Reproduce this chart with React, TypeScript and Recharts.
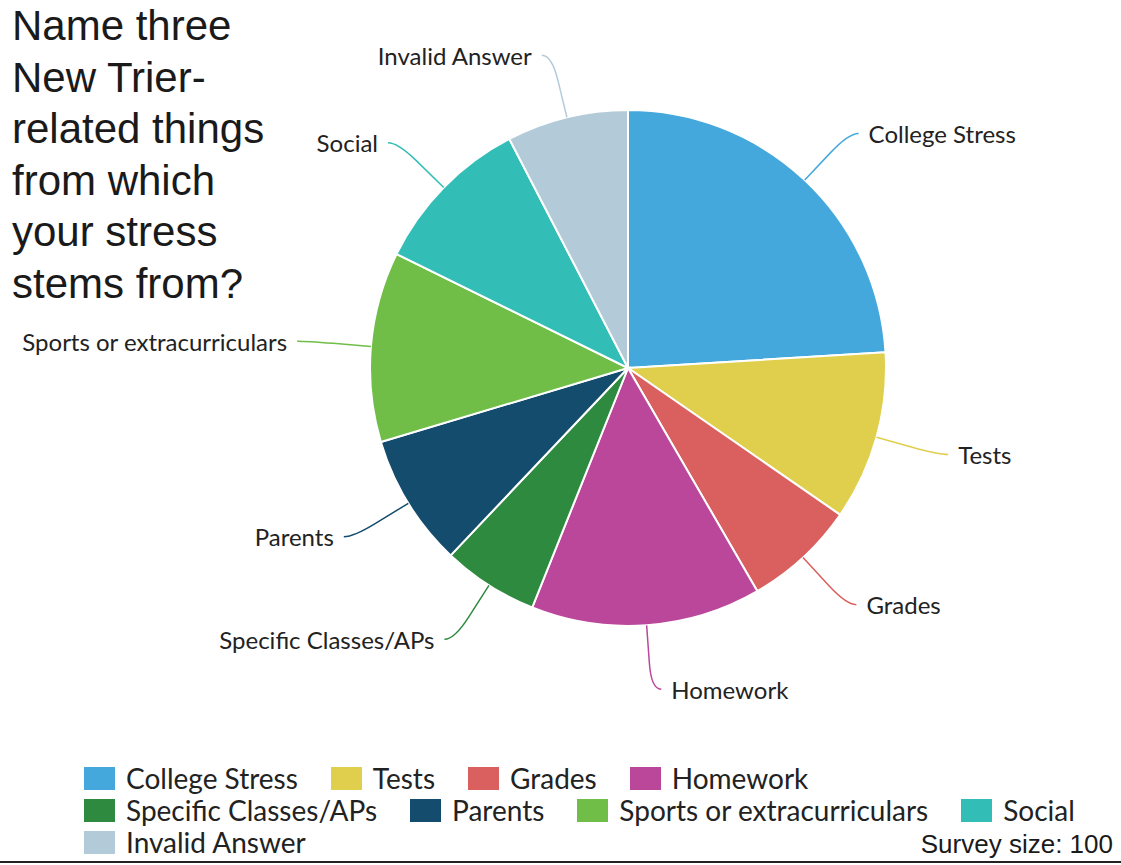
import React from 'react';
import { PieChart, Pie, Cell, Legend } from 'recharts';

// survey answers, clockwise from 12 o'clock
const categories = [
  'College Stress',
  'Tests',
  'Grades',
  'Homework',
  'Specific Classes/APs',
  'Parents',
  'Sports or extracurriculars',
  'Social',
  'Invalid Answer',
];
const shares = [24.0, 10.6, 7.0, 14.4, 6.0, 8.3, 11.9, 10.1, 7.6];
const colors = [
  '#45A8DC',
  '#E0CF4C',
  '#D9605E',
  '#BB479B',
  '#2E8A3F',
  '#144C6E',
  '#70BE48',
  '#32BDB6',
  '#B3CBD9',
];
const titleLines = ['Name three', 'New Trier-', 'related things', 'from which', 'your stress', 'stems from?'];
const surveyNote = 'Survey size: 100';

const data = categories.map((name, i) => ({ name, value: shares[i], color: colors[i] }));

const RAD = Math.PI / 180;
const LABEL_FONT = 'Lato, "Open Sans", sans-serif';

function renderLabel(props: any) {
  const { cx, cy, midAngle, outerRadius, index } = props;
  const pt = (r: number) => ({
    x: cx + r * Math.cos(-midAngle * RAD),
    y: cy + r * Math.sin(-midAngle * RAD),
  });
  const s = pt(outerRadius);
  const m = pt(outerRadius + 38);
  const e = pt(outerRadius + 64);
  const right = Math.cos(-midAngle * RAD) >= 0;
  const dir = right ? 1 : -1;
  return (
    <g key={`lbl-${index}`}>
      <path
        d={`M${s.x},${s.y} L${m.x},${m.y} Q${e.x},${e.y} ${e.x + dir * 10},${e.y}`}
        stroke={colors[index]}
        strokeWidth={1.5}
        fill="none"
      />
      <text
        x={e.x + dir * 20}
        y={e.y}
        textAnchor={right ? 'start' : 'end'}
        dominantBaseline="central"
        fontFamily={LABEL_FONT}
        fontSize={24}
        fill="#222"
      >
        {categories[index]}
      </text>
    </g>
  );
}

function LegendBox(props: any) {
  const items = [...(props.payload || [])].sort(
    (a: any, b: any) => categories.indexOf(a.value) - categories.indexOf(b.value)
  );
  return (
    <div style={{ display: 'flex', flexWrap: 'wrap', fontFamily: LABEL_FONT, fontSize: 28, color: '#222' }}>
      {items.map((item: any) => (
        <div
          key={item.value}
          style={{ display: 'flex', alignItems: 'center', height: 32, marginRight: 33 }}
        >
          <span style={{ display: 'inline-block', width: 31, height: 23, background: item.color, marginRight: 11 }} />
          <span style={{ whiteSpace: 'nowrap' }}>{item.value}</span>
        </div>
      ))}
    </div>
  );
}

export default function App() {
  return (
    <div style={{ position: 'absolute', left: 0, top: 0, width: 1121, height: 865, background: '#fff', overflow: 'hidden' }}>
      <div
        style={{
          position: 'absolute',
          left: 12,
          top: 0,
          fontFamily: '"Liberation Sans", Arial, sans-serif',
          fontSize: 42,
          lineHeight: '51.5px',
          color: '#1a1a1a',
        }}
      >
        {titleLines.map((t) => (
          <div key={t}>{t}</div>
        ))}
      </div>

      <PieChart width={1121} height={865} margin={{ top: 0, right: 0, bottom: 0, left: 0 }}>
        <Pie
          data={data}
          dataKey="value"
          nameKey="name"
          cx={628}
          cy={368}
          outerRadius={258}
          startAngle={90}
          endAngle={-270}
          stroke="#fff"
          strokeWidth={2}
          label={renderLabel}
          labelLine={false}
          isAnimationActive={false}
        >
          {data.map((d) => (
            <Cell key={d.name} fill={d.color} />
          ))}
        </Pie>
        <Legend
          verticalAlign="bottom"
          content={<LegendBox />}
          wrapperStyle={{ left: 84, top: 762, width: 1037, bottom: 'auto' }}
        />
      </PieChart>

      <div
        style={{
          position: 'absolute',
          right: 8,
          top: 831,
          fontFamily: '"Liberation Sans", Arial, sans-serif',
          fontSize: 26,
          lineHeight: '26px',
          color: '#1a1a1a',
        }}
      >
        {surveyNote}
      </div>
      <div style={{ position: 'absolute', left: 0, top: 861, width: 1121, height: 2, background: '#222' }} />
    </div>
  );
}
